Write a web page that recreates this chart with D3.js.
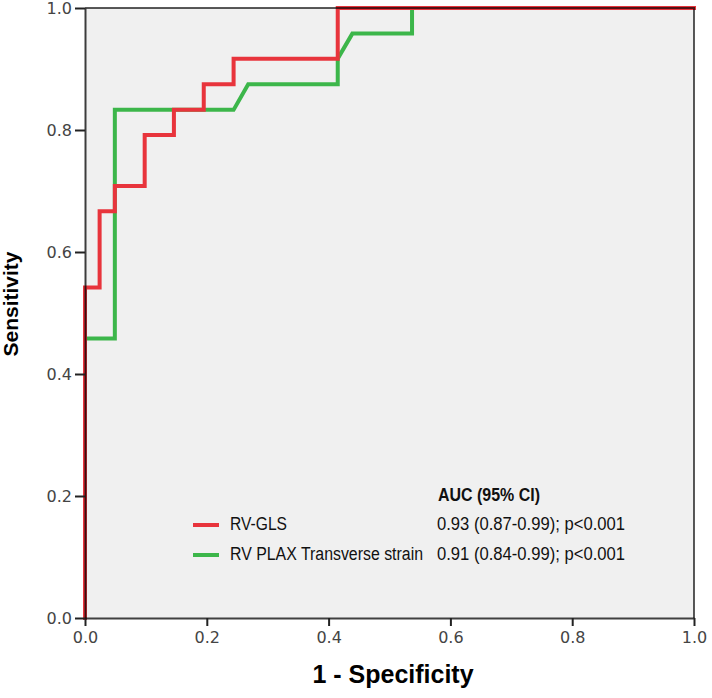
<!DOCTYPE html>
<html>
<head>
<meta charset="utf-8">
<script src="https://cdn.jsdelivr.net/npm/d3@7"></script>
<style>
  html, body { margin: 0; padding: 0; background: #ffffff; }
  svg { display: block; }
</style>
</head>
<body>
<svg id="chart" width="712" height="698"></svg>
<script>
// ---- data ----
const xTicks = [0.0, 0.2, 0.4, 0.6, 0.8, 1.0];
const yTicks = [0.0, 0.2, 0.4, 0.6, 0.8, 1.0];

const seriesNames = ["RV-GLS", "RV PLAX Transverse strain"];
const seriesColors = ["#e8343c", "#3cb64a"];
const aucLabels = ["0.93 (0.87-0.99); p<0.001", "0.91 (0.84-0.99); p<0.001"];
const aucHeader = "AUC (95% CI)";

const glsFpr  = [0, 0,     0.024, 0.024, 0.049, 0.049, 0.098, 0.098, 0.146, 0.146, 0.195, 0.195, 0.244, 0.244, 0.415, 0.415, 1];
const glsTpr  = [0, 0.542, 0.542, 0.667, 0.667, 0.708, 0.708, 0.792, 0.792, 0.833, 0.833, 0.875, 0.875, 0.917, 0.917, 1,     1];

const plaxFpr = [0, 0,     0.049, 0.049, 0.244, 0.268, 0.415, 0.415, 0.439, 0.537, 0.537, 1];
const plaxTpr = [0, 0.458, 0.458, 0.833, 0.833, 0.875, 0.875, 0.917, 0.958, 0.958, 1,     1];

// ---- layout ----
const svg = d3.select("#chart");
const pLeft = 85, pRight = 694, pTop = 8, pBottom = 618;

const x = d3.scaleLinear().domain([0, 1]).range([pLeft, pRight]);
const y = d3.scaleLinear().domain([0, 1]).range([pBottom, pTop]);

// plot background
svg.append("rect")
  .attr("x", pLeft).attr("y", pTop)
  .attr("width", pRight - pLeft).attr("height", pBottom - pTop)
  .attr("fill", "#f0f0f0");

// curves (green first, red on top)
const line = d3.line().x(d => x(d[0])).y(d => y(d[1])).curve(d3.curveLinear);
const series = [
  { pts: d3.zip(plaxFpr, plaxTpr), color: seriesColors[1] },
  { pts: d3.zip(glsFpr, glsTpr), color: seriesColors[0] }
];
series.forEach(s => {
  svg.append("path")
    .attr("d", line(s.pts))
    .attr("fill", "none")
    .attr("stroke", s.color)
    .attr("stroke-width", 4)
    .attr("stroke-linejoin", "miter")
    .attr("stroke-linecap", "square");
});

// frame (top & right)
svg.append("path")
  .attr("d", `M${pLeft},${pTop}H${pRight}V${pBottom}`)
  .attr("fill", "none")
  .attr("stroke", "#000")
  .attr("stroke-opacity", 0.65)
  .attr("stroke-width", 2);

// axes
const xAxis = d3.axisBottom(x).tickValues(xTicks).tickFormat(d3.format(".1f")).tickSize(8).tickSizeOuter(0);
const yAxis = d3.axisLeft(y).tickValues(yTicks).tickFormat(d3.format(".1f")).tickSize(10).tickSizeOuter(0);

const gx = svg.append("g").attr("transform", `translate(0,${pBottom})`).call(xAxis);
const gy = svg.append("g").attr("transform", `translate(${pLeft},0)`).call(yAxis);

[gx, gy].forEach(g => {
  g.select(".domain").attr("stroke", "#000").attr("stroke-opacity", 0.75).attr("stroke-width", 2);
  g.selectAll(".tick line").attr("stroke", "#222").attr("stroke-width", 2);
  g.selectAll(".tick text")
    .attr("fill", "#444")
    .style("font-family", "DejaVu Sans, sans-serif")
    .style("font-size", "16px");
});
gx.selectAll(".tick text").attr("dy", "0.71em").attr("y", 14);
gy.selectAll(".tick text").attr("x", -13);

// axis titles
svg.append("text")
  .attr("x", 393).attr("y", 683)
  .attr("text-anchor", "middle")
  .style("font-family", "Liberation Sans, Arial, sans-serif")
  .style("font-weight", "bold")
  .style("font-size", "25px")
  .attr("fill", "#000")
  .text("1 - Specificity");

svg.append("text")
  .attr("transform", "translate(18,304) rotate(-90)")
  .attr("text-anchor", "middle")
  .style("font-family", "Liberation Sans, Arial, sans-serif")
  .style("font-weight", "bold")
  .style("font-size", "21px")
  .attr("fill", "#000")
  .text("Sensitivity");

// legend
const nameWidths = [57, 193];
const lg = svg.append("g");
lg.append("text")
  .attr("x", 438).attr("y", 501)
  .style("font-family", "Liberation Sans, Arial, sans-serif")
  .style("font-weight", "bold")
  .style("font-size", "18px")
  .attr("fill", "#111")
  .attr("textLength", 102)
  .attr("lengthAdjust", "spacingAndGlyphs")
  .text(aucHeader);

seriesNames.forEach((name, i) => {
  const yy = 530 + i * 30;
  lg.append("line")
    .attr("x1", 193).attr("x2", 219)
    .attr("y1", yy - 5).attr("y2", yy - 5)
    .attr("stroke", seriesColors[i])
    .attr("stroke-width", 4);
  lg.append("text")
    .attr("x", 230).attr("y", yy)
    .style("font-family", "Liberation Sans, Arial, sans-serif")
    .style("font-size", "18px")
    .attr("fill", "#111")
    .attr("textLength", nameWidths[i])
    .attr("lengthAdjust", "spacingAndGlyphs")
    .text(name);
  lg.append("text")
    .attr("x", 437).attr("y", yy)
    .style("font-family", "Liberation Sans, Arial, sans-serif")
    .style("font-size", "18px")
    .attr("fill", "#111")
    .attr("textLength", 188)
    .attr("lengthAdjust", "spacingAndGlyphs")
    .text(aucLabels[i]);
});
</script>
</body>
</html>
